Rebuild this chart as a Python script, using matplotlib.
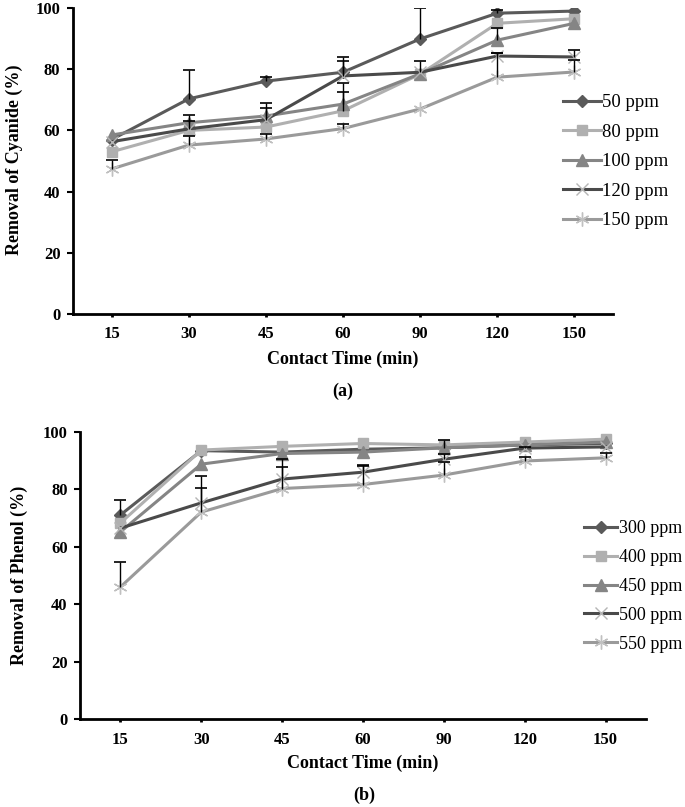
import numpy as np
import matplotlib
matplotlib.use("Agg")
import matplotlib.pyplot as plt

plt.rcParams['font.family'] = ['Liberation Serif', 'DejaVu Serif']

time_labels = ['15', '30', '45', '60', '90', '120', '150']

# (a) cyanide removal (%)
cyanide_labels = ['50 ppm', '80 ppm', '100 ppm', '120 ppm', '150 ppm']
cyanide_50 = [57.0, 70.3, 76.1, 79.0, 89.9, 98.3, 99.0]
cyanide_80 = [53.0, 60.0, 61.1, 66.4, 78.4, 95.0, 96.5]
cyanide_100 = [58.5, 62.5, 64.7, 68.6, 78.5, 89.5, 95.0]
cyanide_120 = [56.3, 60.5, 63.5, 77.8, 79.0, 84.3, 84.0]
cyanide_150 = [47.4, 55.2, 57.2, 60.6, 67.0, 77.4, 79.1]

cyanide_err_50 = [0, 9.5, 1.5, 5.0, 10.0, 1.0, 0]
cyanide_err_80 = [0, 0, 0, 6.0, 0, 0, 0]
cyanide_err_100 = [0, 2.5, 4.3, 7.0, 0, 4.0, 0]
cyanide_err_120 = [0, 2.5, 3.8, 5.0, 3.7, 1.0, 2.3]
cyanide_err_150 = [2.9, 3.0, 1.5, 1.4, 0, 8.0, 4.0]

# (b) phenol removal (%)
phenol_labels = ['300 ppm', '400 ppm', '450 ppm', '500 ppm', '550 ppm']
phenol_300 = [71.1, 93.5, 93.0, 94.0, 94.5, 95.5, 96.0]
phenol_400 = [68.3, 93.7, 95.0, 96.0, 95.5, 96.5, 97.5]
phenol_450 = [65.2, 88.8, 92.5, 93.0, 94.5, 95.5, 96.5]
phenol_500 = [66.5, 75.3, 83.6, 86.0, 90.5, 94.4, 94.8]
phenol_550 = [46.0, 72.1, 80.3, 81.7, 85.0, 89.9, 91.0]

phenol_err_300 = [5.2, 0, 0, 0, 2.7, 0, 0]
phenol_err_400 = [0, 0, 0, 0, 0, 0, 0]
phenol_err_450 = [0, 0, 0, 0, 0, 0, 0]
phenol_err_500 = [0, 9.4, 7.0, 2.5, 1.7, 0.5, 0]
phenol_err_550 = [8.7, 8.4, 7.5, 6.5, 4.5, 1.4, 1.7]

# series styles: line colour, marker, marker colour, marker size, marker edge width
styles = [
    ('#5a5a5a', 'D', '#5a5a5a', 6, 1.0),
    ('#b0b0b0', 's', '#b0b0b0', 7.5, 1.0),
    ('#858585', '^', '#858585', 8, 1.0),
    ('#4a4a4a', 'x', '#b5b5b5', 8, 1.0),
    ('#9a9a9a', (6, 2, 0), '#c0c0c0', 10, 1.0),
]

W, H = 685, 807
fig = plt.figure(figsize=(W / 100, H / 100), dpi=100)


def draw_panel(rect, series, errors, labels, legend_xy, leg_size, handle_len):
    ax = fig.add_axes(rect)
    x = np.arange(len(time_labels))
    for vals, err, lab, st in zip(series, errors, labels, styles):
        col, mk, mcol, ms, mew = st
        ax.plot(x, vals, color=col, lw=2.2, marker=mk, ms=ms,
                mfc=mcol, mec=mcol, mew=mew, label=lab, zorder=3)
        err = np.array(err)
        vals = np.array(vals)
        keep = err > 0
        if keep.any():
            _, caps, _ = ax.errorbar(x[keep], vals[keep],
                                     yerr=[np.zeros(keep.sum()), err[keep]],
                                     fmt='none', ecolor='black', elinewidth=1.0,
                                     capsize=4, capthick=1.2, zorder=4)
            caps[0].set_visible(False)
    ax.set_xlim(-0.5, len(time_labels) - 0.5)
    ax.set_ylim(0, 100)
    ax.set_xticks(x)
    ax.set_xticklabels(time_labels)
    ax.set_yticks([0, 20, 40, 60, 80, 100])
    for s in ['top', 'right']:
        ax.spines[s].set_visible(False)
    for s in ['left', 'bottom']:
        ax.spines[s].set_linewidth(2.0)
    ax.tick_params(axis='y', direction='out', length=4, width=1.5, pad=5)
    ax.tick_params(axis='x', direction='out', length=2, width=2, pad=7)
    for t in ax.get_xticklabels() + ax.get_yticklabels():
        t.set_fontweight('bold')
        t.set_fontsize(12)
    ax.legend(loc='upper left', bbox_to_anchor=legend_xy,
              bbox_transform=fig.transFigure, frameon=False,
              prop={'size': leg_size}, handlelength=handle_len, handletextpad=0.1,
              labelspacing=0.66, borderpad=0, borderaxespad=0)
    return ax


draw_panel([73 / W, 1 - 314 / H, 540 / W, 306 / H],
           [cyanide_50, cyanide_80, cyanide_100, cyanide_120, cyanide_150],
           [cyanide_err_50, cyanide_err_80, cyanide_err_100, cyanide_err_120, cyanide_err_150],
           cyanide_labels, (563 / W, 1 - 94 / H), 13.5, 2.0)

draw_panel([80 / W, 1 - 719 / H, 566 / W, 287 / H],
           [phenol_300, phenol_400, phenol_450, phenol_500, phenol_550],
           [phenol_err_300, phenol_err_400, phenol_err_450, phenol_err_500, phenol_err_550],
           phenol_labels, (584 / W, 1 - 520 / H), 13, 1.85)

# axis titles and panel labels
lab = dict(fontsize=13, fontweight='bold', ha='center', va='center')
fig.text(14 / W, 1 - 160 / H, 'Removal of Cyanide (%)', rotation=90, **lab)
fig.text(343 / W, 1 - 359 / H, 'Contact Time (min)', **lab)
fig.text(343 / W, 1 - 391 / H, '(a)', **lab)
fig.text(19 / W, 1 - 575 / H, 'Removal of Phenol (%)', rotation=90, **lab)
fig.text(363 / W, 1 - 763 / H, 'Contact Time (min)', **lab)
fig.text(364 / W, 1 - 795 / H, '(b)', **lab)

fig.savefig('out.png', dpi=100)
